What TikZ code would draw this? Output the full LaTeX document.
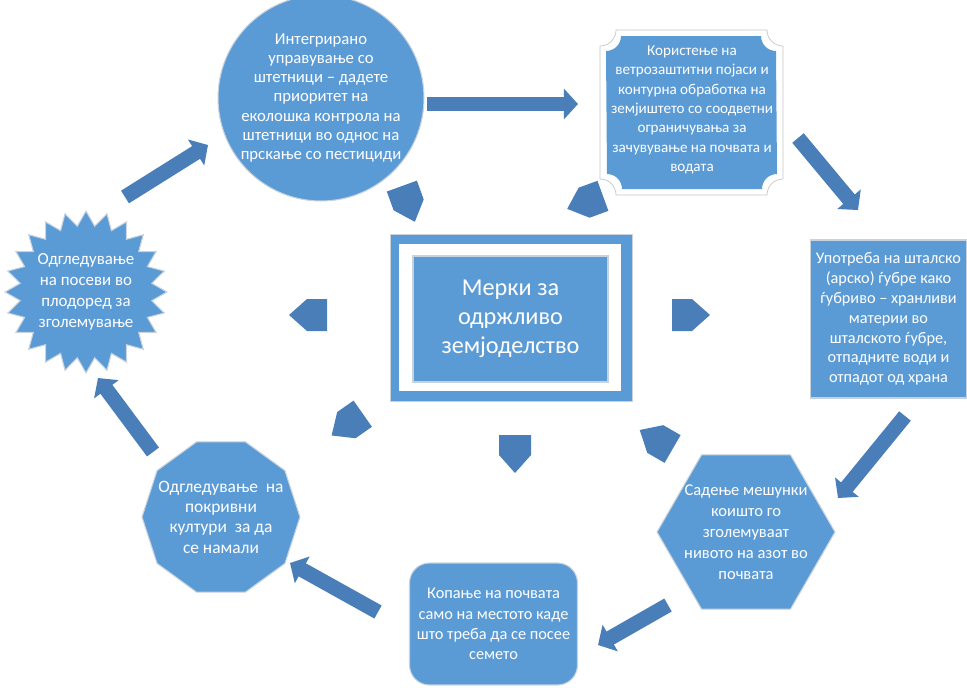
\documentclass[tikz,border=0pt]{standalone}
\usepackage{fontspec}
\setmainfont{Carlito}
\usetikzlibrary{arrows.meta,shapes.geometric}

\definecolor{shapeblue}{RGB}{91,155,213}
\definecolor{arrowblue}{RGB}{74,126,185}
\definecolor{rimgray}{RGB}{200,210,222}

\tikzset{
  txt/.style 2 args={text=white, align=center, font=\fontsize{#1}{#2}\selectfont},
  bluefill/.style={fill=shapeblue, draw=rimgray, line width=0.6pt},
  bigarrow/.style={arrowblue, line width=8.5pt, -{Triangle[width=17pt,length=8pt]}},
  pics/chev/.style={code={\fill[arrowblue] (-18,-16) -- (2,-16) -- (20,0) -- (2,16) -- (-18,16) -- cycle;}}
}

\begin{document}
\begin{tikzpicture}[x=0.02cm, y=-0.02cm]

        \useasboundingbox (0,0) rectangle (967,687);

        % Centre box
        \fill[shapeblue, draw=rimgray] (390,234) rectangle (632,401);
        \fill[white] (399,244) rectangle (621,391);
        \node[bluefill, minimum width=3.9cm, minimum height=2.52cm, txt={13.8}{16.5}] (ctr) at (510.5,319)
              {Мерки за\\одржливо\\земјоделство};

        % Small pentagons round the centre
        \foreach \px/\py/\ang in {408/203/-70, 586/202/200, 309/315/180, 690/315/0,
                                  515/453/-90, 348/424/215, 657/440/150}
        \pic[rotate=\ang] at (\px,\py) {chev};

        % Circle
        \node[circle, bluefill, minimum size=4.12cm,
              label={[txt={9.5}{11}]center:Интегрирано\\управување со\\штетници – дадете\\приоритет на\\еколошка контрола на\\штетници во однос на\\прскање со пестициди}]
              (ipm) at (321,98) {};

        % Plaque
        \filldraw[fill=white, draw=gray!45] (616,30) -- (767,30) arc[start angle=180,end angle=90,radius=16]
              -- (783,179) arc[start angle=270,end angle=180,radius=16]
              -- (616,195) arc[start angle=0,end angle=-90,radius=16]
              -- (600,46) arc[start angle=90,end angle=0,radius=16] -- cycle;
        \fill[shapeblue] (622,36) -- (761,36) arc[start angle=180,end angle=90,radius=15]
              -- (777,174) arc[start angle=270,end angle=180,radius=15]
              -- (622,189) arc[start angle=0,end angle=-90,radius=15]
              -- (606,51) arc[start angle=90,end angle=0,radius=15] -- cycle;
        \node[txt={8.6}{11}] (wind) at (692,110)
              {Користење на\\ветрозаштитни појаси и\\контурна обработка на\\земјиштето со соодветни\\ограничувања за\\зачувување на почвата и\\водата};

        % Rectangle
        \node[bluefill, minimum width=3.06cm, minimum height=3.16cm, txt={9.25}{11.3}] (manure) at (888.5,319)
              {Употреба на шталско\\(арско) ѓубре како\\ѓубриво – хранливи\\материи во\\шталското ѓубре,\\отпадните води и\\отпадот од храна};

        % Hexagon
        \node[regular polygon, regular polygon sides=6, bluefill, minimum size=3.56cm,
              label={[txt={9.4}{12}]center:Садење мешунки\\коишто го\\зголемуваат\\нивото на азот во\\почвата}]
              (legume) at (746,532) {};

        % Rounded box
        \node[bluefill, rounded corners=0.4cm, minimum width=3.36cm, minimum height=2.44cm, txt={9.3}{11.6}]
              (dig) at (493.5,624)
              {Копање на почвата\\само на местото каде\\што треба да се посее\\семето};

        % Decagon
        \node[regular polygon, regular polygon sides=10, bluefill, minimum size=3.16cm,
              label={[txt={9.9}{11.6}]center:Одгледување\ \ на\\покривни\\култури\ \ за да\\се намали}]
              (cover) at (221,517) {};

        % Star
        \node[star, star points=24, star point ratio=1.22, bluefill, minimum size=3.24cm,
              label={[txt={9.6}{12}]center:Одгледување\\на посеви во\\плодоред за\\зголемување}]
              (rot) at (86,292) {};

        % Big arrows
        \coordinate (a1s) at (427,104);  \coordinate (a1e) at (578,104);
        \coordinate (a2s) at (798,138);  \coordinate (a2e) at (858,210);
        \coordinate (a3s) at (905,416);  \coordinate (a3e) at (838,498);
        \coordinate (a4s) at (668,605);  \coordinate (a4e) at (598,645);
        \coordinate (a5s) at (378,612);  \coordinate (a5e) at (290,563);
        \coordinate (a6s) at (153,452);  \coordinate (a6e) at (98,378);
        \coordinate (a7s) at (125,197);  \coordinate (a7e) at (208,145);
        \foreach \n in {1,...,7}
        \draw[bigarrow] (a\n s) -- (a\n e);

\end{tikzpicture}
\end{document}
